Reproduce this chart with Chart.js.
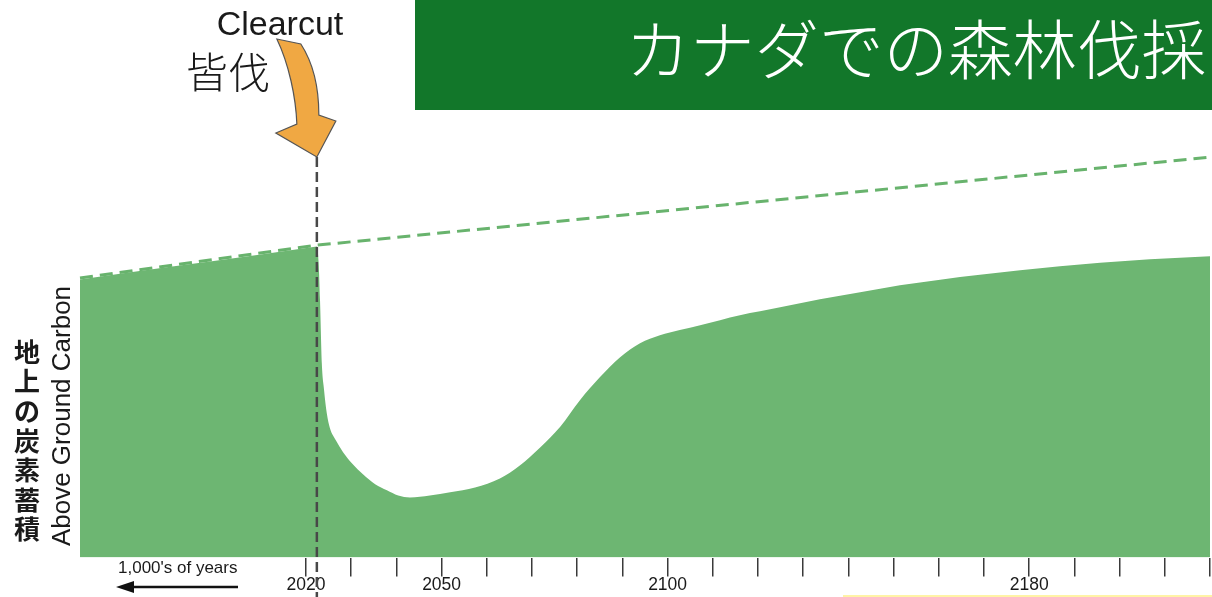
<!DOCTYPE html>
<html><head><meta charset="utf-8">
<script src="https://cdn.jsdelivr.net/npm/chart.js@4/dist/chart.umd.min.js"></script>
<style>html,body{margin:0;padding:0;background:#fff;overflow:hidden}#wrap{width:1212px;height:597px;position:relative}</style>
</head><body><div id="wrap"><canvas id="c" width="1212" height="597"></canvas></div>
<script>
// ---- data ----
const years  = [1970, 1990, 2010, 2021.6, 2022.4, 2022.8, 2023.1, 2023.5, 2024.0, 2024.6, 2025.3, 2026.6, 2028.2, 2030.2, 2032.6, 2035.3, 2037.9, 2040.4, 2043.0, 2047.4, 2051.9, 2057.4, 2062.9, 2067.3, 2071.8, 2076.2, 2080.6, 2085.0, 2089.5, 2093.9, 2098.3, 2102.7, 2107.2, 2116.0, 2124.9, 2133.7, 2142.6, 2151.4, 2160.3, 2169.1, 2178.0, 2186.8, 2195.7, 2206.7, 2220];
const carbon = [69.45, 72.6, 75.7, 77.55, 77.7, 73.5, 64.3, 48.5, 41.8, 36.0, 32.3, 29.3, 26.3, 23.5, 20.8, 18.3, 16.8, 15.5, 15.0, 15.5, 16.3, 17.5, 19.75, 23.0, 27.5, 32.6, 39.3, 45.0, 50.0, 53.5, 55.5, 56.8, 58.0, 60.5, 62.5, 64.5, 66.25, 68.0, 69.4, 70.6, 71.75, 72.75, 73.6, 74.5, 75.25];
const baselineYears  = [1970, 2022.4, 2220];
const baselineCarbon = [69.8, 78.0, 100];
const clearcutYear = 2022.4;
const tickYears  = [2020, 2030, 2040, 2050, 2060, 2070, 2080, 2090, 2100, 2110, 2120, 2130, 2140, 2150, 2160, 2170, 2180, 2190, 2200, 2210, 2220];
const labelYears = [2020, 2050, 2100, 2180];
const titleText = 'カナダでの森林伐採';
const clearcutEn = 'Clearcut';
const clearcutJa = '皆伐';
const yTitleEn = 'Above Ground Carbon';
const yTitleJa = '地上の炭素蓄積';
const pastLabel = "1,000's of years";

const GREEN = '#6db672';
const SANS = '"Liberation Sans", Arial, sans-serif';
const CJK = '"Noto Sans CJK JP", sans-serif';

const deco = {
  id: 'deco',
  beforeDraw(chart) {
    const c = chart.ctx;
    c.save(); c.fillStyle = '#fff'; c.fillRect(0, 0, chart.width, chart.height); c.restore();
  },
  afterDraw(chart) {
    const c = chart.ctx;
    const xs = chart.scales.x;
    const ccx = xs.getPixelForValue(clearcutYear);
    c.save();
    // vertical clearcut line
    c.strokeStyle = '#484848'; c.lineWidth = 2.5; c.setLineDash([10, 5]);
    c.beginPath(); c.moveTo(ccx, 157); c.lineTo(ccx, 597); c.stroke();
    c.setLineDash([]);
    // title box
    c.fillStyle = '#12772a'; c.fillRect(415, 0, 797, 110);
    c.fillStyle = '#ffffff';
    c.font = '300 64.5px ' + CJK;
    c.textAlign = 'right'; c.textBaseline = 'middle';
    c.fillText(titleText, 1206, 49);
    // Clearcut labels
    c.fillStyle = '#1a1a1a';
    c.font = '34px ' + SANS; c.textAlign = 'center'; c.textBaseline = 'alphabetic';
    c.fillText(clearcutEn, 280, 35);
    c.font = '300 42px ' + CJK; c.textAlign = 'left'; c.textBaseline = 'middle';
    c.fillText(clearcutJa, 186, 72);
    // orange arrow, tip at the clearcut line
    const tx = ccx, ty = 157;
    const p = (dx, dy) => [tx + dx, ty + dy];
    c.beginPath();
    let q = p(-40, -118); c.moveTo(q[0], q[1]);
    q = p(-16, -113); c.lineTo(q[0], q[1]);
    let a = p(-3, -93), b = p(2, -68), e = p(2, -42);
    c.bezierCurveTo(a[0], a[1], b[0], b[1], e[0], e[1]);
    q = p(19, -36); c.lineTo(q[0], q[1]);
    q = p(0, 0); c.lineTo(q[0], q[1]);
    q = p(-41, -24); c.lineTo(q[0], q[1]);
    q = p(-20, -33); c.lineTo(q[0], q[1]);
    a = p(-21, -60); b = p(-28, -93); e = p(-40, -118);
    c.bezierCurveTo(a[0], a[1], b[0], b[1], e[0], e[1]);
    c.closePath();
    c.fillStyle = '#f0a843'; c.fill();
    c.strokeStyle = '#555'; c.lineWidth = 1.2; c.stroke();
    // y axis titles
    c.fillStyle = '#1a1a1a';
    c.save(); c.translate(63, 416); c.rotate(-Math.PI / 2);
    c.font = '26px ' + SANS; c.textAlign = 'center'; c.textBaseline = 'middle';
    c.fillText(yTitleEn, 0, 0); c.restore();
    c.font = 'bold 26px ' + CJK; c.textAlign = 'center'; c.textBaseline = 'middle';
    [...yTitleJa].forEach((ch, i) => c.fillText(ch, 27, 352 + i * 29.6));
    // past time note
    c.font = '17px ' + SANS; c.textAlign = 'left'; c.textBaseline = 'middle';
    c.fillText(pastLabel, 118, 568);
    c.strokeStyle = '#111'; c.lineWidth = 2.5;
    c.beginPath(); c.moveTo(128, 587); c.lineTo(238, 587); c.stroke();
    c.fillStyle = '#111';
    c.beginPath(); c.moveTo(116, 587); c.lineTo(134, 581); c.lineTo(134, 593); c.closePath(); c.fill();
    // faint yellow line at bottom
    c.fillStyle = '#fff3a6'; c.fillRect(843, 595, 369, 2);
    c.restore();
  }
};

new Chart(document.getElementById('c'), {
  type: 'line',
  data: {
    datasets: [
      {
        label: 'baseline',
        data: baselineYears.map((x, i) => ({ x, y: baselineCarbon[i] })),
        borderColor: '#68b36d', borderWidth: 3, borderDash: [13, 7],
        pointRadius: 0, fill: false, tension: 0, clip: false
      },
      {
        label: 'carbon',
        data: years.map((x, i) => ({ x, y: carbon[i] })),
        borderWidth: 0, borderColor: GREEN, backgroundColor: GREEN,
        pointRadius: 0, fill: 'origin', cubicInterpolationMode: 'monotone'
      }
    ]
  },
  options: {
    responsive: false, animation: false,
    layout: { padding: { left: 80, right: 2, top: 37, bottom: 3 } },
    plugins: { legend: { display: false }, tooltip: { enabled: false } },
    scales: {
      x: {
        type: 'linear', min: 1970, max: 2220,
        afterBuildTicks: (axis) => { axis.ticks = tickYears.map(v => ({ value: v })); },
        ticks: {
          autoSkip: false, maxRotation: 0, padding: 0, color: '#1a1a1a',
          font: { family: SANS, size: 17.5, lineHeight: 1 },
          callback: (v) => labelYears.includes(v) ? String(v) : ''
        },
        grid: { drawOnChartArea: false, drawTicks: true, tickLength: 19, color: '#3a3a3a', lineWidth: 1.5 },
        border: { display: false }
      },
      y: { display: false, min: 0, max: 130 }
    }
  },
  plugins: [deco]
});
</script>
</body></html>
